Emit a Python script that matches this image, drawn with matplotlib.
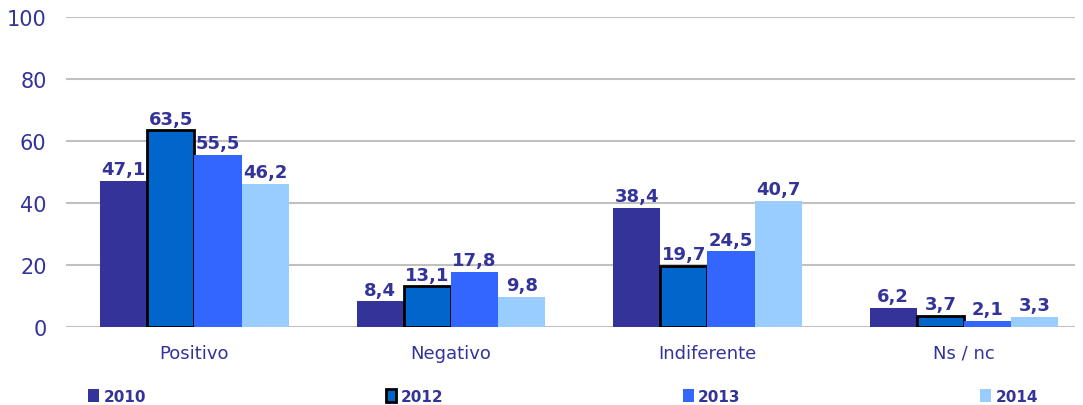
import numpy as np
import matplotlib.pyplot as plt

# Survey answers by year
categories = ['Positivo', 'Negativo', 'Indiferente', 'Ns / nc']
years = ['2010', '2012', '2013', '2014']
v2010 = [47.1, 8.4, 38.4, 6.2]
v2012 = [63.5, 13.1, 19.7, 3.7]
v2013 = [55.5, 17.8, 24.5, 2.1]
v2014 = [46.2, 9.8, 40.7, 3.3]

series = [v2010, v2012, v2013, v2014]
colors = ['#333399', '#0066CC', '#3366FF', '#99CCFF']
edges = ['none', 'black', 'none', 'none']
label_color = '#333399'

fig = plt.figure(figsize=(10.83, 4.06), dpi=100)
ax = fig.add_axes([0.061, 0.192, 0.932, 0.764])

x = np.arange(len(categories))
width = 0.184
offsets = (np.arange(4) - 1.5) * width

for vals, off, col, ec, yr in zip(series, offsets, colors, edges, years):
    lw = 2 if ec != 'none' else 0
    bars = ax.bar(x + off, vals, width, color=col, edgecolor=ec, linewidth=lw,
                  label=yr, zorder=3)
    for b, v in zip(bars, vals):
        ax.text(b.get_x() + b.get_width() / 2, v + 0.8,
                f'{v:.1f}'.replace('.', ','), ha='center', va='bottom',
                fontsize=13, fontweight='bold', color=label_color, zorder=4)

ax.set_xlim(-0.5, 3.434)
ax.set_ylim(0, 100)
ax.set_yticks(range(0, 101, 20))
ax.yaxis.grid(True, color='#C0C0C0', linewidth=1.5, zorder=0)
ax.set_axisbelow(True)
for s in ax.spines.values():
    s.set_visible(False)
ax.tick_params(axis='y', length=0, labelsize=15, labelcolor=label_color, pad=14)
ax.tick_params(axis='x', length=0, labelsize=13, labelcolor=label_color, pad=12)
ax.set_xticks(x)
ax.set_xticklabels(categories)

leg = fig.legend(loc='lower left', bbox_to_anchor=(0.076, -0.012, 0.888, 0.07),
                 mode='expand', ncol=4, frameon=False, handlelength=0.7,
                 handleheight=0.9, handletextpad=0.3, borderaxespad=0.0,
                 prop={'weight': 'bold', 'size': 11})
for t in leg.get_texts():
    t.set_color(label_color)

fig.savefig('out.png', dpi=100)
